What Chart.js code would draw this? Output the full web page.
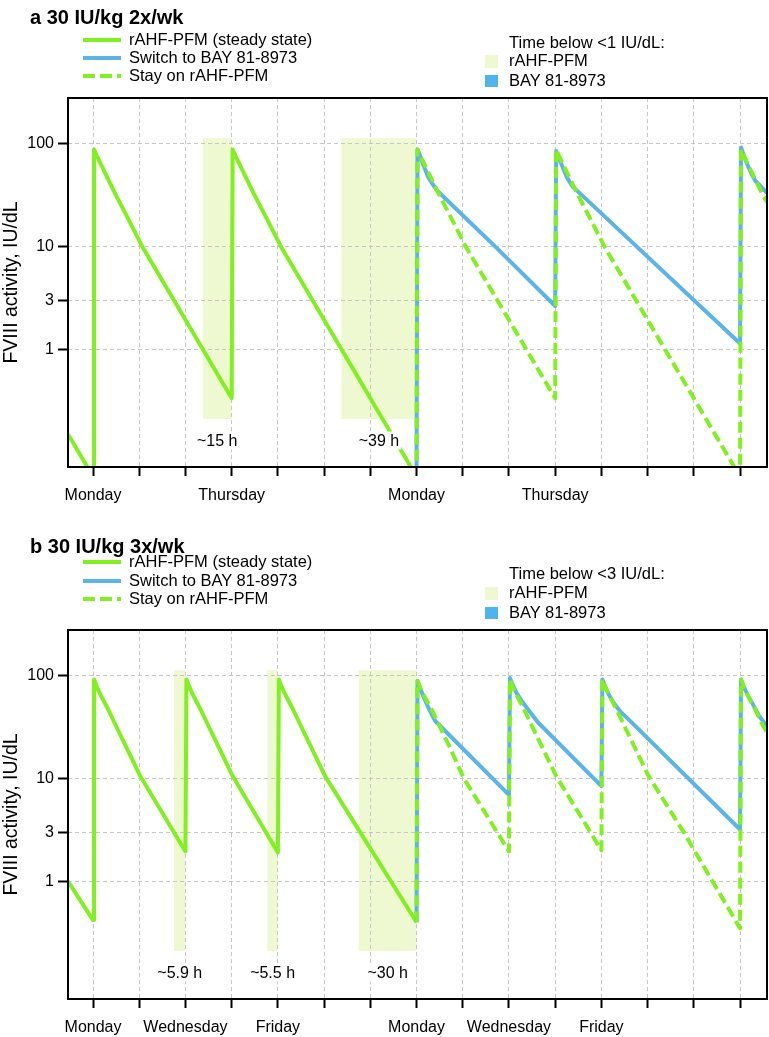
<!DOCTYPE html>
<html>
<head>
<meta charset="utf-8">
<script src="https://cdn.jsdelivr.net/npm/chart.js@4.4.1/dist/chart.umd.min.js"></script>
<style>
    body { margin: 0; background: #fff; font-family: 'Liberation Sans', Arial, sans-serif; }
    #page { position: relative; width: 769px; height: 1037px; overflow: hidden; background: #fff; }
    canvas { position: absolute; left: 0; }
    .txt { position: absolute; white-space: nowrap; color: #000; line-height: 1.2; }
    .mark { position: absolute; }
</style>
</head>
<body>
<div id="page">
    <canvas id="chartA" width="769" height="515" style="top:0"></canvas>
    <canvas id="chartB" width="769" height="522" style="top:515px"></canvas>
</div>
<script>
// Оси
const dayTicks = [0, 24, 48, 72, 96, 120, 144, 168, 192, 216, 240, 264, 288, 312, 336];
const dayNamesA = ['Monday', '', '', 'Thursday', '', '', '', 'Monday', '', '', 'Thursday', '', '', '', ''];
const dayNamesB = ['Monday', '', 'Wednesday', '', 'Friday', '', '', 'Monday', '', 'Wednesday', '', 'Friday', '', '', ''];
const yTicks = [1, 3, 10, 100];

// Панель a: [часы, FVIII IU/dL]
const aSteady = [[-13, 0.15], [0, 0.058],
    [0.5, 87], [2, 75], [4, 63], [8, 44], [12, 31], [17, 20.5], [26, 9.6], [72, 0.334],
    [72.5, 87], [74, 75], [76, 63], [80, 44], [84, 31], [89, 20.5], [98, 9.6], [168, 0.058]];
const aSwitch = [[168, 0.058],
    [168.5, 87], [170, 74], [171.5, 62], [174, 47], [176, 41], [178.5, 35], [209.7, 9.6], [240, 2.63],
    [240.5, 84], [242, 72], [243.5, 61], [246, 47], [249, 38], [256.5, 28.2], [336, 1.14],
    [336.5, 91], [338, 76], [339.5, 64], [342, 50], [344, 43], [350, 33]];
const aStay = [[168, 0.058],
    [168.5, 87], [170, 75], [172, 63], [176, 44], [180, 31], [185, 20.5], [194, 9.6], [240, 0.334],
    [240.5, 87], [242, 75], [244, 63], [248, 44], [252, 31], [257, 20.5], [266, 9.6], [336, 0.058],
    [336.5, 87], [338, 75], [340, 63], [344, 44], [348, 31], [350, 27]];

// Панель b
const bSteady = [[-13, 1.0], [0, 0.42],
    [0.5, 91], [2, 77], [4, 64], [8, 46], [12, 32], [17, 20.5], [24.5, 10.5], [48, 1.95],
    [48.5, 91], [50, 77], [52, 64], [56, 46], [60, 32], [65, 20.5], [72.5, 10.5], [96, 1.9],
    [96.5, 91], [98, 77], [100, 64], [104, 46], [108, 32], [113, 20.5], [120.5, 10.5], [138.7, 3], [168, 0.40]];
const bSwitch = [[168, 0.40],
    [168.5, 88], [170, 74], [171.5, 63], [174, 49], [177.7, 36], [216, 6.9],
    [216.5, 94], [218, 80], [220, 67], [223, 55], [226.5, 45], [231, 35], [264, 8.4],
    [264.5, 91], [266, 77], [268, 64], [271, 52], [274, 44], [277.3, 38.6], [336, 3.18],
    [336.5, 91], [338, 77], [340, 64], [343, 51], [346, 40], [350, 32]];
const bStay = [[168, 0.40],
    [168.5, 88], [170, 75], [172, 63], [176, 46], [180, 32], [185, 20.5], [192.4, 10.1], [216, 1.95],
    [216.5, 91], [218, 77], [220, 64], [224, 46], [228, 32], [233, 20.5], [240.5, 10.5], [264, 2.0],
    [264.5, 91], [266, 77], [268, 64], [272, 46], [276, 32], [281, 20.5], [288.5, 10.5], [306.7, 3], [336, 0.35],
    [336.5, 91], [338, 77], [340, 64], [344, 46], [348, 32], [350, 28]];

// Заштрихованные интервалы (часы) и подписи
const shadeA = [[57, 72], [129, 168]];
const shadeLabelsA = ['~15 h', '~39 h'];
const shadeB = [[42.1, 48], [90.5, 96], [138, 168]];
const shadeLabelsB = ['~5.9 h', '~5.5 h', '~30 h'];
const shadeSpan = [0.21, 112];
const shadeLabelLevel = 0.13;

const legendLabels = ['rAHF-PFM (steady state)', 'Switch to BAY 81-8973', 'Stay on rAHF-PFM'];
const boxLabels = ['rAHF-PFM', 'BAY 81-8973'];

const GREEN = '#80f01e';
const BLUE = '#5ab4e8';
const SHADE = '#eef9d2';
const BOX_BLUE = '#4db4ee';
const FONT = "'Liberation Sans', Arial, sans-serif";

Chart.defaults.font.family = FONT;
Chart.defaults.color = '#000';

const page = document.getElementById('page');

function addText(text, left, cy, size, bold) {
    const d = document.createElement('div');
    d.className = 'txt';
    d.textContent = text;
    d.style.left = left + 'px';
    d.style.top = (cy - size * 0.6) + 'px';
    d.style.fontSize = size + 'px';
    if (bold) d.style.fontWeight = 'bold';
    page.appendChild(d);
}

function addMark(left, top, w, h, bg) {
    const d = document.createElement('div');
    d.className = 'mark';
    d.style.left = left + 'px';
    d.style.top = top + 'px';
    d.style.width = w + 'px';
    d.style.height = h + 'px';
    d.style.background = bg;
    page.appendChild(d);
}

function addLegend(title, rows, boxHeader, boxRows) {
    addText(title.text, 30, title.cy, 20, true);
    const samples = [GREEN, BLUE,
        `repeating-linear-gradient(90deg, ${GREEN} 0 12px, transparent 12px 17px)`];
    rows.forEach((cy, i) => {
        addMark(83, cy - 2, 38, 4, samples[i]);
        addText(legendLabels[i], 129, cy, 16.5);
    });
    addText(boxHeader.text, 509, boxHeader.cy, 16.5);
    boxRows.forEach((cy, i) => {
        addMark(485, cy - 6, 12.5, 12.5, i === 0 ? SHADE : BOX_BLUE);
        addText(boxLabels[i], 509, cy, 16.5);
    });
}

addLegend({ text: 'a 30 IU/kg 2x/wk', cy: 16.5 }, [39.5, 57.5, 76],
    { text: 'Time below <1 IU/dL:', cy: 42.5 }, [61, 80.5]);
addLegend({ text: 'b 30 IU/kg 3x/wk', cy: 545.5 }, [562, 580.5, 598.8],
    { text: 'Time below <3 IU/dL:', cy: 574.2 }, [593.3, 612.5]);

// Плагин: зоны, подписи, рамка
const shadePlugin = {
    id: 'shades',
    beforeDraw(chart, args, opts) {
        const { ctx, scales: { x, y } } = chart;
        const yTop = y.getPixelForValue(shadeSpan[1]);
        const yBot = y.getPixelForValue(shadeSpan[0]);
        ctx.save();
        ctx.fillStyle = SHADE;
        opts.ranges.forEach(([h0, h1]) => {
            const x0 = x.getPixelForValue(h0);
            const x1 = x.getPixelForValue(h1);
            ctx.fillRect(x0, yTop, x1 - x0, yBot - yTop);
        });
        ctx.restore();
    },
    afterDatasetsDraw(chart, args, opts) {
        const { ctx, chartArea: a, scales: { x, y } } = chart;
        ctx.save();
        ctx.font = '16px ' + FONT;
        ctx.textAlign = 'center';
        ctx.textBaseline = 'middle';
        opts.ranges.forEach(([h0, h1], i) => {
            const cx = x.getPixelForValue((h0 + h1) / 2);
            const cy = y.getPixelForValue(shadeLabelLevel);
            const w = ctx.measureText(opts.labels[i]).width;
            ctx.fillStyle = '#fff';
            ctx.fillRect(cx - w / 2 - 2, cy - 9, w + 4, 18);
            ctx.fillStyle = '#000';
            ctx.fillText(opts.labels[i], cx, cy + 1);
        });
        ctx.strokeStyle = '#000';
        ctx.lineWidth = 2;
        ctx.strokeRect(a.left, a.top, a.right - a.left, a.bottom - a.top);
        ctx.restore();
    }
};

function toXY(pairs) {
    return pairs.map(([h, v]) => ({ x: h, y: v }));
}

function gridOpts(tickLength) {
    return {
        color: '#c6c6c6',
        lineWidth: 1,
        tickLength: tickLength,
        tickColor: '#000',
        tickWidth: 2,
        tickBorderDash: []
    };
}

function buildChart(id, steady, sw, stay, names, ranges, labels, pad) {
    const line = { borderWidth: 4, pointRadius: 0, tension: 0, fill: false, clip: 0, borderJoinStyle: 'round' };
    new Chart(document.getElementById(id).getContext('2d'), {
        type: 'line',
        data: {
            datasets: [
                { ...line, label: legendLabels[2], data: toXY(stay), borderColor: GREEN, borderDash: [11, 5], order: 0 },
                { ...line, label: legendLabels[1], data: toXY(sw), borderColor: BLUE, order: 1 },
                { ...line, label: legendLabels[0], data: toXY(steady), borderColor: GREEN, order: 2 }
            ]
        },
        options: {
            responsive: false,
            animation: false,
            layout: { padding: pad },
            plugins: {
                legend: { display: false },
                tooltip: { enabled: false },
                shades: { ranges: ranges, labels: labels }
            },
            scales: {
                x: {
                    type: 'linear',
                    min: -13,
                    max: 350,
                    afterBuildTicks: s => { s.ticks = dayTicks.map(v => ({ value: v })); },
                    afterFit: s => { s.height = 36; },
                    ticks: {
                        autoSkip: false,
                        maxRotation: 0,
                        padding: 9.5,
                        font: { size: 16 },
                        callback: (v, i) => names[i]
                    },
                    grid: gridOpts(9),
                    border: { display: false, dash: [4, 3] }
                },
                y: {
                    type: 'logarithmic',
                    min: 0.072,
                    max: 275,
                    afterBuildTicks: s => { s.ticks = yTicks.map(v => ({ value: v })); },
                    afterFit: s => { s.width = 68; },
                    ticks: { padding: 4, font: { size: 16 }, callback: v => String(v) },
                    grid: gridOpts(10),
                    border: { display: false, dash: [4, 3] },
                    title: { display: true, text: 'FVIII activity, IU/dL', font: { size: 19.5 }, padding: 0 }
                }
            }
        },
        plugins: [shadePlugin]
    });
}

buildChart('chartA', aSteady, aSwitch, aStay, dayNamesA, shadeA, shadeLabelsA,
    { top: 98, left: 0, right: 2, bottom: 12 });
buildChart('chartB', bSteady, bSwitch, bStay, dayNamesB, shadeB, shadeLabelsB,
    { top: 115, left: 0, right: 2, bottom: 2 });
</script>
</body>
</html>
